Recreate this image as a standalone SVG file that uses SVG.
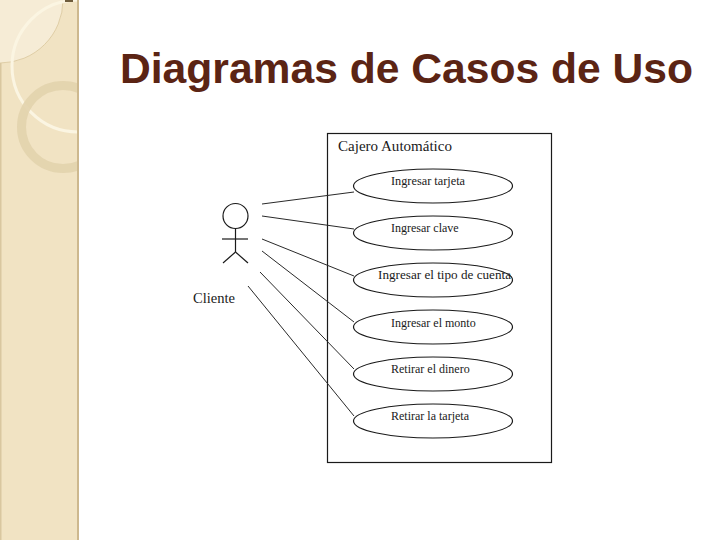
<svg xmlns="http://www.w3.org/2000/svg" width="720" height="540" viewBox="0 0 720 540">
<style>
.uc{fill:#fff;stroke:#1a1a1a;stroke-width:1.2}
.ut{font-family:"Liberation Serif","Times New Roman",serif;font-size:12px;fill:#1a1a1a}
.con{stroke:#2a2a2a;stroke-width:1;fill:none}
.act{stroke:#1a1a1a;stroke-width:1.2;fill:none}
</style>
<defs>
<clipPath id="panel"><rect x="0" y="0" width="78" height="540"/></clipPath>
</defs>
<rect width="720" height="540" fill="#fff"/>
<g id="sidebar">
<rect x="0" y="0" width="78" height="540" fill="#f1e3c3"/>
<g clip-path="url(#panel)">
<circle cx="0" cy="0" r="63" fill="#f6ecd6" stroke="#d9c69c" stroke-width="0.8"/>
<circle cx="78" cy="66" r="66" fill="none" stroke="#fbf5e2" stroke-width="3"/>
<circle cx="63" cy="127" r="41.5" fill="none" stroke="#e2d3ad" stroke-width="9" opacity="0.9"/>
</g>
<rect x="77" y="0" width="2" height="540" fill="#cdb88e"/>
<rect x="0" y="63" width="1.5" height="477" fill="#d9c7a0"/>
<rect x="65" y="0" width="8" height="2" fill="#6e5c3c"/>
</g>
<text id="title" x="120" y="83" font-family="Liberation Sans, Arial, sans-serif" font-size="42" font-weight="bold" fill="#5b2414" textLength="573" lengthAdjust="spacingAndGlyphs">Diagramas de Casos de Uso</text>
<g id="system">
<rect x="327.5" y="133.5" width="224" height="329" fill="#fff" stroke="#1a1a1a" stroke-width="1.2"/>
<text x="338" y="151" font-family="Liberation Serif, Times New Roman, serif" font-size="14" fill="#1a1a1a" textLength="114" lengthAdjust="spacingAndGlyphs">Cajero Automático</text>
</g>
<g id="actor">
<circle class="act" cx="235.5" cy="216" r="12.5"/>
<line class="act" x1="235.5" y1="228.5" x2="235.5" y2="252"/>
<line class="act" x1="222" y1="239" x2="248" y2="239"/>
<line class="act" x1="235.5" y1="252" x2="223" y2="263"/>
<line class="act" x1="235.5" y1="252" x2="248" y2="263"/>
<text x="193" y="303" font-family="Liberation Serif, Times New Roman, serif" font-size="14" fill="#1a1a1a" textLength="42" lengthAdjust="spacingAndGlyphs">Cliente</text>
</g>
<g id="connectors">
<line class="con" x1="262" y1="204" x2="354" y2="192"/>
<line class="con" x1="262" y1="216" x2="354" y2="229"/>
<line class="con" x1="262" y1="239" x2="354" y2="276"/>
<line class="con" x1="262" y1="251" x2="354" y2="322"/>
<line class="con" x1="260" y1="272" x2="354" y2="369"/>
<line class="con" x1="248" y1="286" x2="354" y2="416"/>
</g>
<g id="uc1"><ellipse class="uc" cx="433" cy="186" rx="79.5" ry="17"/><text class="ut" x="391" y="185" textLength="74" lengthAdjust="spacingAndGlyphs">Ingresar tarjeta</text></g>
<g id="uc2"><ellipse class="uc" cx="433" cy="233" rx="79.5" ry="17"/><text class="ut" x="391" y="232">Ingresar clave</text></g>
<g id="uc3"><ellipse class="uc" cx="433" cy="280" rx="79.5" ry="17"/><text class="ut" x="378" y="279" textLength="133" lengthAdjust="spacingAndGlyphs">Ingresar el tipo de cuenta</text></g>
<g id="uc4"><ellipse class="uc" cx="433" cy="327" rx="79.5" ry="17"/><text class="ut" x="391" y="327">Ingresar el monto</text></g>
<g id="uc5"><ellipse class="uc" cx="433" cy="374" rx="79.5" ry="17"/><text class="ut" x="391" y="373">Retirar el dinero</text></g>
<g id="uc6"><ellipse class="uc" cx="433" cy="421" rx="79.5" ry="17"/><text class="ut" x="391" y="420">Retirar la tarjeta</text></g>
</svg>
